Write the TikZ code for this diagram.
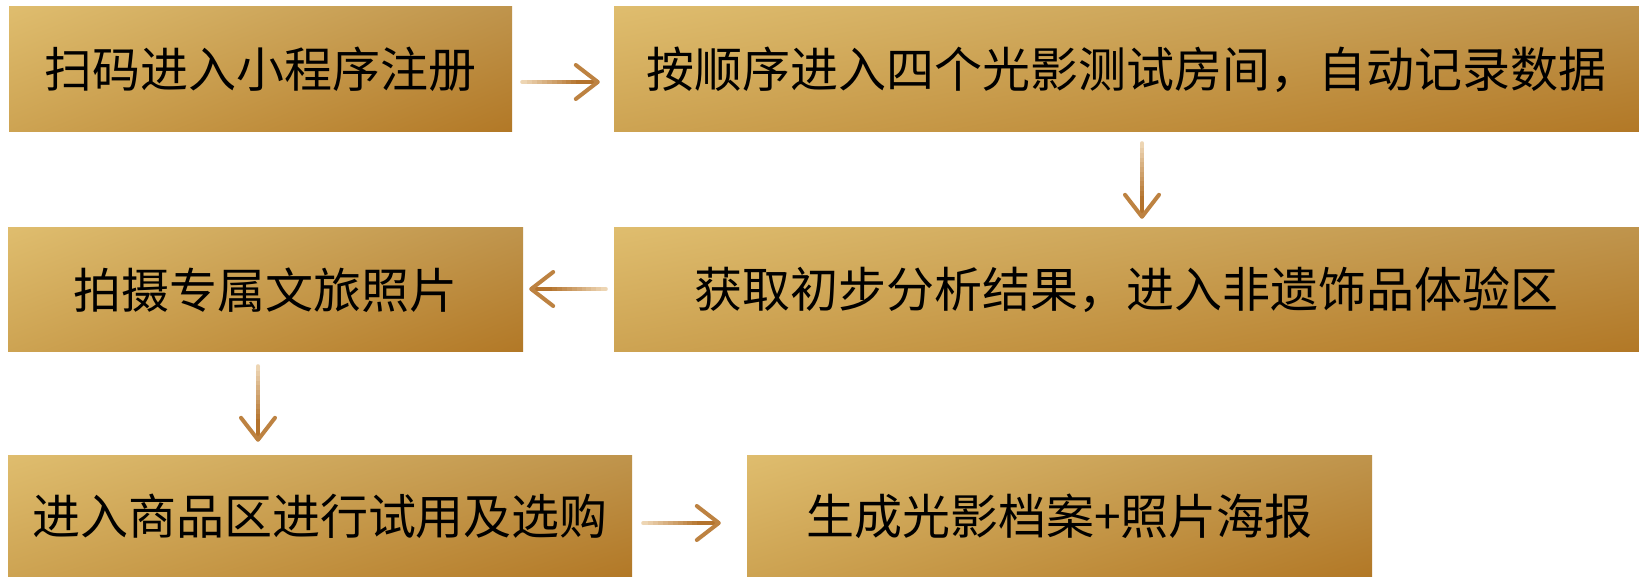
\documentclass[tikz,border=0pt]{standalone}
\usepackage{fontspec}
\newfontfamily\cjk{Noto Sans CJK SC}
\usetikzlibrary{calc,shadings}
\definecolor{gUL}{HTML}{DFBD6E}
\definecolor{gUR}{HTML}{BF944C}
\definecolor{gLL}{HTML}{CDA352}
\definecolor{gLR}{HTML}{B27826}
\definecolor{arrL}{HTML}{EDD5B3}
\definecolor{arrD}{HTML}{B4732D}
\tikzset{
  goldbox/.style={shade, upper left=gUL, upper right=gUR, lower left=gLL, lower right=gLR,
    draw=none, inner sep=0pt, text=black, font=\cjk\fontsize{48}{54}\selectfont},
}
\newcommand\garrow[2]{%
  \foreach \i in {0,...,11}{%
    \pgfmathsetmacro\aa{\i/12*0.78}%
    \pgfmathsetmacro\bb{(\i+1)/12*0.78+0.01}%
    \pgfmathsetmacro\pp{100*\i/11}%
    \draw[line width=4pt, color=arrD!\pp!arrL] ($(#1)!\aa!(#2)$) -- ($(#1)!\bb!(#2)$);
  }%
  \fill[arrL] (#1) circle (2pt);
  \draw[line width=4pt, color=arrD] ($(#1)!0.78!(#2)$) -- (#2);
  \coordinate (hp) at ($(#2)!22pt!(#1)$);
  \draw[line width=4pt, line cap=round, line join=round, color=arrD!85!arrL]
    ($(hp)!17pt!90:(#2)$) -- (#2) -- ($(hp)!17pt!-90:(#2)$);
}
\begin{document}
\begin{tikzpicture}[x=1pt, y=-1pt]
\useasboundingbox (0,0) rectangle (1639,577);
\fill[white] (0,0) rectangle (1639,577);

\node[goldbox, minimum width=503pt, minimum height=125pt] (b1) at (260.5,69.5) {扫码进入小程序注册};
\node[goldbox, minimum width=1025pt, minimum height=125pt] (b2) at (1126.5,69.5) {按顺序进入四个光影测试房间，自动记录数据};
\node[goldbox, minimum width=515pt, minimum height=124pt] (b3) at (265.5,290) {拍摄专属文旅照片};
\node[goldbox, minimum width=1025pt, minimum height=124pt] (b4) at (1126.5,290) {获取初步分析结果，进入非遗饰品体验区};
\node[goldbox, minimum width=624pt, minimum height=122pt] (b5) at (320,516) {进入商品区进行试用及选购};
\node[goldbox, minimum width=625pt, minimum height=122pt] (b6) at (1059.5,516) {生成光影档案+照片海报};

\coordinate (a1s) at ($(b1.east)+(10,12.5)$);
\coordinate (a1e) at ($(b2.west)+(-16,12.5)$);
\coordinate (a2s) at ($(b2.south)+(15.5,11)$);
\coordinate (a2e) at ($(b4.north)+(15.5,-11)$);
\coordinate (a3s) at ($(b4.west)+(-8,-1)$);
\coordinate (a3e) at ($(b3.east)+(8,-1)$);
\coordinate (a4s) at ($(b3.south)+(-7.5,14)$);
\coordinate (a4e) at ([yshift=15pt]a4s |- b5.north);
\coordinate (a5s) at ($(b5.east)+(11,7)$);
\coordinate (a5e) at ($(b6.west)+(-28,7)$);

\garrow{a1s}{a1e}
\garrow{a2s}{a2e}
\garrow{a3s}{a3e}
\garrow{a4s}{a4e}
\garrow{a5s}{a5e}
\end{tikzpicture}
\end{document}
